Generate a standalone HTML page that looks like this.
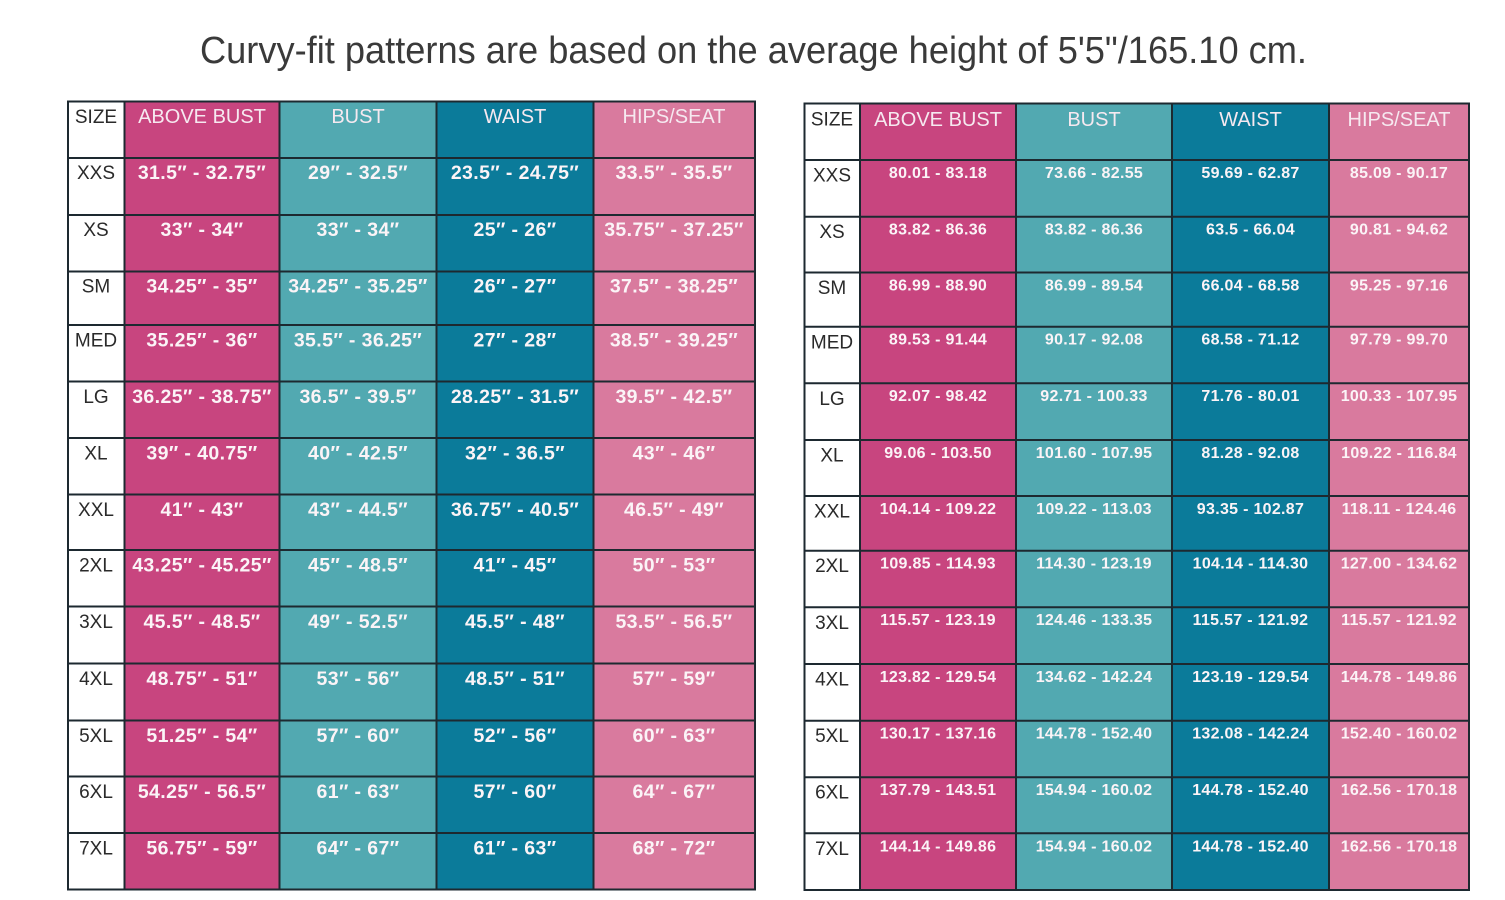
<!DOCTYPE html>
<html><head><meta charset="utf-8">
<style>
html,body{margin:0;padding:0;background:#fff;}
svg{display:block;}
text{font-family:"Liberation Sans",Arial,sans-serif;}
.t{font-size:38px;fill:#3a3a3a;}
.h{font-size:20px;fill:#f6e9f0;text-anchor:middle;}
.sz{font-size:19px;fill:#2a2a2a;text-anchor:middle;}
.v{font-size:19.5px;font-weight:bold;fill:#fbf4f7;text-anchor:middle;letter-spacing:0.4px;}
.r{font-size:16px;font-weight:bold;fill:#fbf4f7;text-anchor:middle;letter-spacing:0.3px;}
.ln{stroke:#1d2930;stroke-width:2;fill:none;}
</style></head>
<body>
<svg width="1505" height="900" viewBox="0 0 1505 900" xmlns="http://www.w3.org/2000/svg">
<rect width="1505" height="900" fill="#fff"/>
<text class="t" x="200" y="63" textLength="1107" lengthAdjust="spacingAndGlyphs">Curvy-fit patterns are based on the average height of 5'5"/165.10 cm.</text>

<!-- LEFT TABLE -->
<rect x="68" y="101.5" width="56.5" height="788" fill="#fff"/>
<rect x="124.5" y="101.5" width="155" height="788" fill="#c8457f"/>
<rect x="279.5" y="101.5" width="157" height="788" fill="#52a9b1"/>
<rect x="436.5" y="101.5" width="157" height="788" fill="#0b7b9a"/>
<rect x="593.5" y="101.5" width="161.5" height="788" fill="#d97a9e"/>
<g class="ln">
<rect x="68" y="101.5" width="687" height="788"/>
<path d="M124.5 101.5V889.5M279.5 101.5V889.5M436.5 101.5V889.5M593.5 101.5V889.5"/>
<path d="M68 158H755M68 215H755M68 271.5H755M68 325H755M68 381.5H755M68 438H755M68 494.5H755M68 550H755M68 606.5H755M68 663.5H755M68 720.5H755M68 776.5H755M68 833H755"/>
</g>
<text class="sz" x="96" y="123">SIZE</text>
<text class="h" x="202" y="123">ABOVE BUST</text>
<text class="h" x="358" y="123">BUST</text>
<text class="h" x="515" y="123">WAIST</text>
<text class="h" x="674" y="123">HIPS/SEAT</text>

<g>
<text class="sz" x="96" y="179">XXS</text><text class="v" x="202" y="179">31.5″ - 32.75″</text><text class="v" x="358" y="179">29″ - 32.5″</text><text class="v" x="515" y="179">23.5″ - 24.75″</text><text class="v" x="674" y="179">33.5″ - 35.5″</text>
<text class="sz" x="96" y="236">XS</text><text class="v" x="202" y="236">33″ - 34″</text><text class="v" x="358" y="236">33″ - 34″</text><text class="v" x="515" y="236">25″ - 26″</text><text class="v" x="674" y="236">35.75″ - 37.25″</text>
<text class="sz" x="96" y="292.5">SM</text><text class="v" x="202" y="292.5">34.25″ - 35″</text><text class="v" x="358" y="292.5">34.25″ - 35.25″</text><text class="v" x="515" y="292.5">26″ - 27″</text><text class="v" x="674" y="292.5">37.5″ - 38.25″</text>
<text class="sz" x="96" y="346.5">MED</text><text class="v" x="202" y="346.5">35.25″ - 36″</text><text class="v" x="358" y="346.5">35.5″ - 36.25″</text><text class="v" x="515" y="346.5">27″ - 28″</text><text class="v" x="674" y="346.5">38.5″ - 39.25″</text>
<text class="sz" x="96" y="403">LG</text><text class="v" x="202" y="403">36.25″ - 38.75″</text><text class="v" x="358" y="403">36.5″ - 39.5″</text><text class="v" x="515" y="403">28.25″ - 31.5″</text><text class="v" x="674" y="403">39.5″ - 42.5″</text>
<text class="sz" x="96" y="459.5">XL</text><text class="v" x="202" y="459.5">39″ - 40.75″</text><text class="v" x="358" y="459.5">40″ - 42.5″</text><text class="v" x="515" y="459.5">32″ - 36.5″</text><text class="v" x="674" y="459.5">43″ - 46″</text>
<text class="sz" x="96" y="516">XXL</text><text class="v" x="202" y="516">41″ - 43″</text><text class="v" x="358" y="516">43″ - 44.5″</text><text class="v" x="515" y="516">36.75″ - 40.5″</text><text class="v" x="674" y="516">46.5″ - 49″</text>
<text class="sz" x="96" y="571.5">2XL</text><text class="v" x="202" y="571.5">43.25″ - 45.25″</text><text class="v" x="358" y="571.5">45″ - 48.5″</text><text class="v" x="515" y="571.5">41″ - 45″</text><text class="v" x="674" y="571.5">50″ - 53″</text>
<text class="sz" x="96" y="628">3XL</text><text class="v" x="202" y="628">45.5″ - 48.5″</text><text class="v" x="358" y="628">49″ - 52.5″</text><text class="v" x="515" y="628">45.5″ - 48″</text><text class="v" x="674" y="628">53.5″ - 56.5″</text>
<text class="sz" x="96" y="685">4XL</text><text class="v" x="202" y="685">48.75″ - 51″</text><text class="v" x="358" y="685">53″ - 56″</text><text class="v" x="515" y="685">48.5″ - 51″</text><text class="v" x="674" y="685">57″ - 59″</text>
<text class="sz" x="96" y="742">5XL</text><text class="v" x="202" y="742">51.25″ - 54″</text><text class="v" x="358" y="742">57″ - 60″</text><text class="v" x="515" y="742">52″ - 56″</text><text class="v" x="674" y="742">60″ - 63″</text>
<text class="sz" x="96" y="798">6XL</text><text class="v" x="202" y="798">54.25″ - 56.5″</text><text class="v" x="358" y="798">61″ - 63″</text><text class="v" x="515" y="798">57″ - 60″</text><text class="v" x="674" y="798">64″ - 67″</text>
<text class="sz" x="96" y="854.5">7XL</text><text class="v" x="202" y="854.5">56.75″ - 59″</text><text class="v" x="358" y="854.5">64″ - 67″</text><text class="v" x="515" y="854.5">61″ - 63″</text><text class="v" x="674" y="854.5">68″ - 72″</text>
</g>

<!-- RIGHT TABLE -->
<rect x="804.5" y="103.5" width="55.5" height="786.5" fill="#fff"/>
<rect x="860" y="103.5" width="156" height="786.5" fill="#c8457f"/>
<rect x="1016" y="103.5" width="156" height="786.5" fill="#52a9b1"/>
<rect x="1172" y="103.5" width="157" height="786.5" fill="#0b7b9a"/>
<rect x="1329" y="103.5" width="140" height="786.5" fill="#d97a9e"/>
<g class="ln">
<rect x="804.5" y="103.5" width="664.5" height="786.5"/>
<path d="M860 103.5V890M1016 103.5V890M1172 103.5V890M1329 103.5V890"/>
<path d="M804.5 160H1469M804.5 216.7H1469M804.5 272.5H1469M804.5 326.7H1469M804.5 383.3H1469M804.5 440H1469M804.5 496H1469M804.5 550.7H1469M804.5 607.3H1469M804.5 664H1469M804.5 720.7H1469M804.5 777.3H1469M804.5 833.3H1469"/>
</g>
<text class="sz" x="832" y="125.5">SIZE</text>
<text class="h" x="938" y="126">ABOVE BUST</text>
<text class="h" x="1094" y="126">BUST</text>
<text class="h" x="1250.5" y="126">WAIST</text>
<text class="h" x="1399" y="126">HIPS/SEAT</text>

<g>
<text class="sz" x="832" y="181.5">XXS</text><text class="r" x="938" y="178">80.01 - 83.18</text><text class="r" x="1094" y="178">73.66 - 82.55</text><text class="r" x="1250.5" y="178">59.69 - 62.87</text><text class="r" x="1399" y="178">85.09 - 90.17</text>
<text class="sz" x="832" y="238">XS</text><text class="r" x="938" y="234.5">83.82 - 86.36</text><text class="r" x="1094" y="234.5">83.82 - 86.36</text><text class="r" x="1250.5" y="234.5">63.5 - 66.04</text><text class="r" x="1399" y="234.5">90.81 - 94.62</text>
<text class="sz" x="832" y="294">SM</text><text class="r" x="938" y="290.5">86.99 - 88.90</text><text class="r" x="1094" y="290.5">86.99 - 89.54</text><text class="r" x="1250.5" y="290.5">66.04 - 68.58</text><text class="r" x="1399" y="290.5">95.25 - 97.16</text>
<text class="sz" x="832" y="348.3">MED</text><text class="r" x="938" y="344.5">89.53 - 91.44</text><text class="r" x="1094" y="344.5">90.17 - 92.08</text><text class="r" x="1250.5" y="344.5">68.58 - 71.12</text><text class="r" x="1399" y="344.5">97.79 - 99.70</text>
<text class="sz" x="832" y="405">LG</text><text class="r" x="938" y="401">92.07 - 98.42</text><text class="r" x="1094" y="401">92.71 - 100.33</text><text class="r" x="1250.5" y="401">71.76 - 80.01</text><text class="r" x="1399" y="401">100.33 - 107.95</text>
<text class="sz" x="832" y="461.5">XL</text><text class="r" x="938" y="458">99.06 - 103.50</text><text class="r" x="1094" y="458">101.60 - 107.95</text><text class="r" x="1250.5" y="458">81.28 - 92.08</text><text class="r" x="1399" y="458">109.22 - 116.84</text>
<text class="sz" x="832" y="517.5">XXL</text><text class="r" x="938" y="514">104.14 - 109.22</text><text class="r" x="1094" y="514">109.22 - 113.03</text><text class="r" x="1250.5" y="514">93.35 - 102.87</text><text class="r" x="1399" y="514">118.11 - 124.46</text>
<text class="sz" x="832" y="572">2XL</text><text class="r" x="938" y="568.5">109.85 - 114.93</text><text class="r" x="1094" y="568.5">114.30 - 123.19</text><text class="r" x="1250.5" y="568.5">104.14 - 114.30</text><text class="r" x="1399" y="568.5">127.00 - 134.62</text>
<text class="sz" x="832" y="629">3XL</text><text class="r" x="938" y="625">115.57 - 123.19</text><text class="r" x="1094" y="625">124.46 - 133.35</text><text class="r" x="1250.5" y="625">115.57 - 121.92</text><text class="r" x="1399" y="625">115.57 - 121.92</text>
<text class="sz" x="832" y="685.5">4XL</text><text class="r" x="938" y="682">123.82 - 129.54</text><text class="r" x="1094" y="682">134.62 - 142.24</text><text class="r" x="1250.5" y="682">123.19 - 129.54</text><text class="r" x="1399" y="682">144.78 - 149.86</text>
<text class="sz" x="832" y="742">5XL</text><text class="r" x="938" y="738.5">130.17 - 137.16</text><text class="r" x="1094" y="738.5">144.78 - 152.40</text><text class="r" x="1250.5" y="738.5">132.08 - 142.24</text><text class="r" x="1399" y="738.5">152.40 - 160.02</text>
<text class="sz" x="832" y="798.5">6XL</text><text class="r" x="938" y="795">137.79 - 143.51</text><text class="r" x="1094" y="795">154.94 - 160.02</text><text class="r" x="1250.5" y="795">144.78 - 152.40</text><text class="r" x="1399" y="795">162.56 - 170.18</text>
<text class="sz" x="832" y="855">7XL</text><text class="r" x="938" y="851.5">144.14 - 149.86</text><text class="r" x="1094" y="851.5">154.94 - 160.02</text><text class="r" x="1250.5" y="851.5">144.78 - 152.40</text><text class="r" x="1399" y="851.5">162.56 - 170.18</text>
</g>
</svg>
</body></html>
